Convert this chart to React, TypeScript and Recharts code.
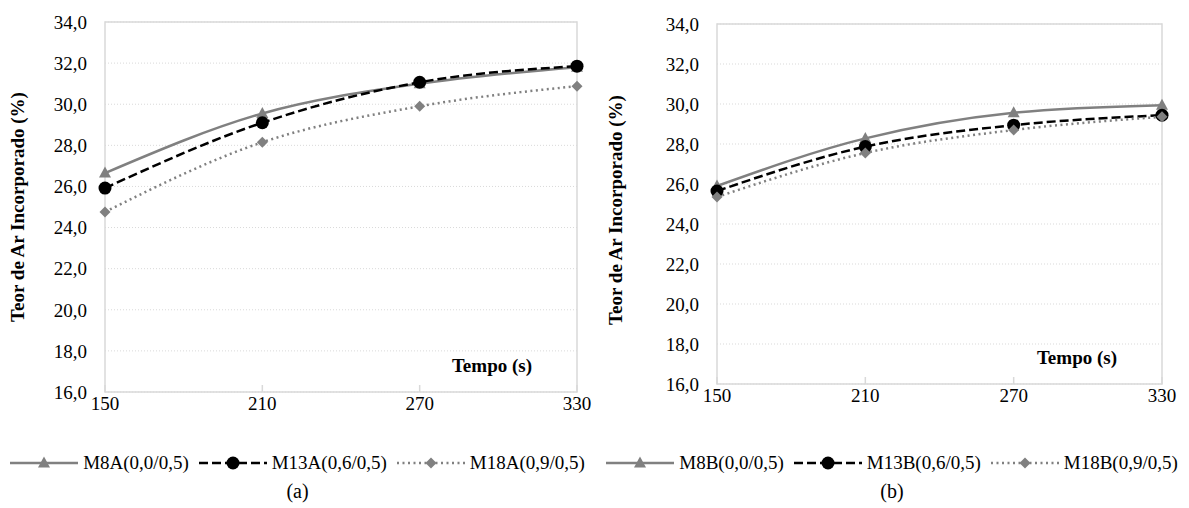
import React from 'react';
import { LineChart, Line, XAxis, YAxis, CartesianGrid, ReferenceArea } from 'recharts';

// tempo (s)
const tempos = [150, 210, 270, 330];
const yTicks = [16, 18, 20, 22, 24, 26, 28, 30, 32, 34];

// painel (a)
const namesA = ['M8A(0,0/0,5)', 'M13A(0,6/0,5)', 'M18A(0,9/0,5)'];
const m8a = [26.65, 29.55, 31.0, 31.8];
const m13a = [25.92, 29.1, 31.07, 31.85];
const m18a = [24.76, 28.15, 29.9, 30.88];

// painel (b)
const namesB = ['M8B(0,0/0,5)', 'M13B(0,6/0,5)', 'M18B(0,9/0,5)'];
const m8b = [25.9, 28.28, 29.56, 29.94];
const m13b = [25.65, 27.87, 28.94, 29.44];
const m18b = [25.35, 27.55, 28.7, 29.36];

const FONT = '"Liberation Serif", "Times New Roman", serif';
const GRAY = '#808080';

const fmt = (v: number) => v.toFixed(1).replace('.', ',');

const Triangle = ({ cx, cy }: any) => (
  <path d={`M${cx},${cy - 6.5} L${cx + 6},${cy + 4.5} L${cx - 6},${cy + 4.5} Z`} fill={GRAY} />
);
const Circle = ({ cx, cy }: any) => <circle cx={cx} cy={cy} r={6.5} fill="#000" />;
const Diamond = ({ cx, cy }: any) => (
  <path d={`M${cx},${cy - 5.5} L${cx + 5.5},${cy} L${cx},${cy + 5.5} L${cx - 5.5},${cy} Z`} fill={GRAY} />
);

const styles = [
  { stroke: GRAY, dash: undefined, Dot: Triangle },
  { stroke: '#000', dash: '9 4', Dot: Circle },
  { stroke: GRAY, dash: '2 3.5', Dot: Diamond },
];

type PanelProps = {
  left: number;
  width: number;
  names: string[];
  series: number[][];
  caption: string;
  plotLeft: number;
  marginRight: number;
  marginTop: number;
  xAxisHeight: number;
  labelX: number;
  labelY: number;
};

function Panel(p: PanelProps) {
  const data = tempos.map((t, i) => ({
    tempo: t,
    s0: p.series[0][i],
    s1: p.series[1][i],
    s2: p.series[2][i],
  }));

  return (
    <div style={{ position: 'absolute', left: p.left, top: 0, width: p.width, height: 508 }}>
      <LineChart
        width={p.width}
        height={420}
        data={data}
        margin={{ top: p.marginTop, right: p.marginRight, bottom: 0, left: 0 }}
      >
        <CartesianGrid vertical={false} stroke="#d9d9d9" strokeDasharray="1 2" />
        <XAxis
          dataKey="tempo"
          height={p.xAxisHeight}
          axisLine={false}
          tickLine={{ stroke: '#d9d9d9', strokeWidth: 1.5 }}
          tickSize={-7}
          tickMargin={12}
          tick={{ fill: '#000', fontSize: 19, fontFamily: FONT }}
          label={{
            content: ({ viewBox }: any) => (
              <text
                x={viewBox.x + viewBox.width - 45}
                y={viewBox.y - 20}
                textAnchor="end"
                fontFamily={FONT}
                fontWeight="bold"
                fontSize={19}
                fill="#000"
              >
                Tempo (s)
              </text>
            ),
          }}
        />
        <YAxis
          width={p.plotLeft}
          domain={[16, 34]}
          ticks={yTicks}
          tickFormatter={fmt}
          axisLine={false}
          tickLine={false}
          tickSize={0}
          tickMargin={18}
          tick={{ fill: '#000', fontSize: 19, fontFamily: FONT }}
          label={{
            content: () => {
              const x = p.labelX;
              const y = p.labelY;
              return (
                <text
                  x={x}
                  y={y}
                  transform={`rotate(-90, ${x}, ${y})`}
                  textAnchor="middle"
                  dominantBaseline="central"
                  fontFamily={FONT}
                  fontWeight="bold"
                  fontSize={19}
                  fill="#000"
                >
                  Teor de Ar Incorporado (%)
                </text>
              );
            },
          }}
        />
        <ReferenceArea x1={150} x2={330} y1={16} y2={34} fill="none" stroke="#d9d9d9" strokeWidth={1.5} />
        {styles.map((s, i) => (
          <Line
            key={i}
            dataKey={`s${i}`}
            type="monotone"
            stroke={s.stroke}
            strokeWidth={2.5}
            strokeDasharray={s.dash}
            dot={<s.Dot />}
            activeDot={false}
            isAnimationActive={false}
          />
        ))}
      </LineChart>
      <div
        style={{
          position: 'absolute',
          top: 452,
          left: 0,
          width: p.width,
          display: 'flex',
          justifyContent: 'center',
          alignItems: 'center',
          fontFamily: FONT,
          fontSize: 19,
          whiteSpace: 'nowrap',
        }}
      >
        {p.names.map((n, i) => {
          const s = styles[i];
          return (
            <div key={n} style={{ display: 'flex', alignItems: 'center', marginRight: i < 2 ? 10 : 0 }}>
              <svg width={68} height={20}>
                <line x1={0} y1={10} x2={68} y2={10} stroke={s.stroke} strokeWidth={2.5} strokeDasharray={s.dash} />
                <s.Dot cx={34} cy={10} />
              </svg>
              <span style={{ marginLeft: 5 }}>{n}</span>
            </div>
          );
        })}
      </div>
      <div
        style={{
          position: 'absolute',
          top: 480,
          left: 0,
          width: p.width,
          textAlign: 'center',
          fontFamily: FONT,
          fontSize: 20,
        }}
      >
        {p.caption}
      </div>
    </div>
  );
}

export default function App() {
  return (
    <div style={{ position: 'absolute', left: 0, top: 0, width: 1189, height: 508, background: '#fff' }}>
      <Panel
        left={0}
        width={595}
        names={namesA}
        series={[m8a, m13a, m18a]}
        caption="(a)"
        plotLeft={105}
        marginRight={18}
        marginTop={22}
        xAxisHeight={28}
        labelX={17}
        labelY={207}
      />
      <Panel
        left={595}
        width={594}
        names={namesB}
        series={[m8b, m13b, m18b]}
        caption="(b)"
        plotLeft={122}
        marginRight={27}
        marginTop={24}
        xAxisHeight={36}
        labelX={20}
        labelY={210}
      />
    </div>
  );
}
